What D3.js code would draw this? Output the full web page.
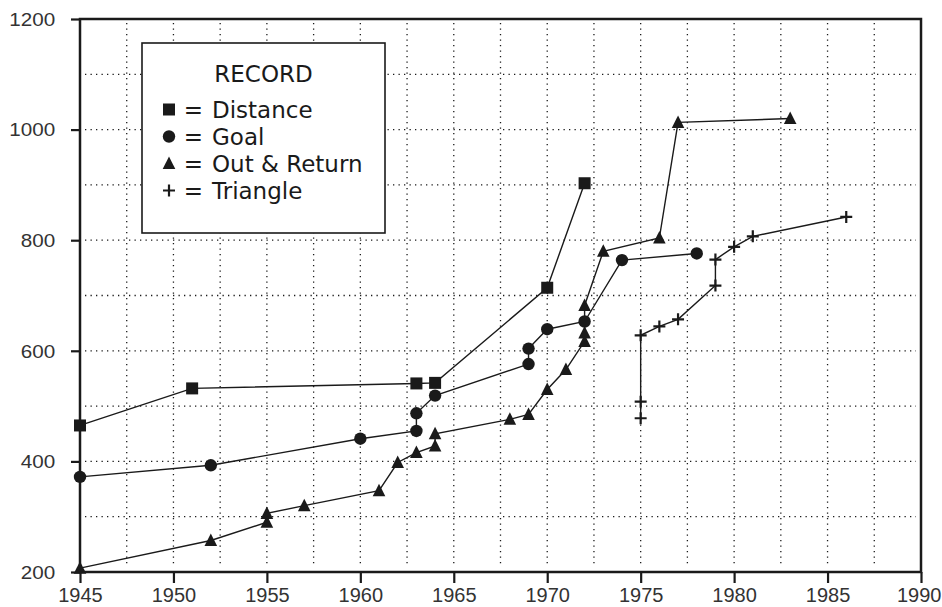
<!DOCTYPE html>
<html>
<head>
<meta charset="utf-8">
<script src="https://cdn.jsdelivr.net/npm/d3@7"></script>
<style>
  html, body { margin: 0; padding: 0; background: #fff; }
  svg { display: block; }
</style>
</head>
<body>
<svg id="chart" width="942" height="607"></svg>
<script>
// ---- data ----
const distanceYears  = [1945, 1951, 1963, 1964, 1970, 1972];
const distanceValues = [465, 532, 541, 542, 714, 903];

const goalYears  = [1945, 1952, 1960, 1963, 1963, 1964, 1969, 1969, 1970, 1972, 1974, 1978];
const goalValues = [372, 393, 441, 455, 487, 519, 576, 604, 639, 653, 764, 776];

const outReturnYears  = [1945, 1952, 1955, 1955, 1957, 1961, 1962, 1963, 1964, 1964, 1968, 1969, 1970, 1971, 1972, 1972, 1972, 1973, 1976, 1977, 1983];
const outReturnValues = [207, 257, 290, 306, 320, 347, 398, 416, 428, 450, 476, 485, 530, 566, 617, 632, 682, 780, 804, 1013, 1020];

const triangleYears  = [1975, 1975, 1975, 1976, 1977, 1979, 1979, 1980, 1981, 1986];
const triangleValues = [478, 508, 628, 644, 657, 718, 765, 788, 807, 842];

const xTicks = [1945, 1950, 1955, 1960, 1965, 1970, 1975, 1980, 1985, 1990];
const yTicks = [200, 400, 600, 800, 1000, 1200];
const xGrid = [1947.5, 1950, 1952.5, 1955, 1957.5, 1960, 1962.5, 1965, 1967.5, 1970, 1972.5, 1975, 1977.5, 1980, 1982.5, 1985, 1987.5];
const yGrid = [300, 400, 500, 600, 700, 800, 900, 1000, 1100];

const legendTitle = "RECORD";
const legendLabels = ["Distance", "Goal", "Out & Return", "Triangle"];
const legendShapes = ["square", "circle", "triangle", "plus"];

// ---- layout ----
const W = 942;
const L = 80, R = 921, T = 19, B = 572;
const svg = d3.select("#chart");
const x = d3.scaleLinear().domain([1945, 1990]).range([L, R]);
const y = d3.scaleLinear().domain([200, 1200]).range([B, T]);

const ink = "#1a1a1a";

// grid
const grid = svg.append("g");
grid.selectAll("line.vg").data(xGrid).join("line")
  .attr("x1", d => x(d)).attr("x2", d => x(d))
  .attr("y1", T + 4).attr("y2", B - 5)
  .attr("stroke", ink).attr("stroke-width", 1.3)
  .attr("stroke-dasharray", "1.3,4.2");
grid.selectAll("line.hg").data(yGrid).join("line")
  .attr("y1", d => y(d)).attr("y2", d => y(d))
  .attr("x1", L + 5).attr("x2", R - 5)
  .attr("stroke", ink).attr("stroke-width", 1.3)
  .attr("stroke-dasharray", "1.3,4.2");

// axes
const xAxis = svg.append("g").attr("transform", `translate(0,${B})`)
  .call(d3.axisBottom(x).tickValues(xTicks).tickSize(11).tickPadding(6).tickFormat(d3.format("d")));
xAxis.select(".domain").remove();
xAxis.selectAll("line").attr("stroke", ink).attr("stroke-width", 2.2);
xAxis.selectAll("text")
  .attr("font-family", "'Liberation Sans', Arial, sans-serif")
  .attr("font-size", 20).attr("fill", "#333")
  .attr("y", 30).attr("dy", 0);
// keep the last label inside the window
xAxis.selectAll("text").filter(d => x(d) + 23 > W)
  .attr("text-anchor", "end").attr("x", d => W - 1 - x(d));

const yAxis = svg.append("g").attr("transform", `translate(${L},0)`)
  .call(d3.axisLeft(y).tickValues(yTicks).tickSize(9).tickPadding(12).tickFormat(d3.format("d")));
yAxis.select(".domain").remove();
yAxis.selectAll("line").attr("stroke", ink).attr("stroke-width", 2.2);
yAxis.selectAll("text")
  .attr("font-family", "'Liberation Sans', Arial, sans-serif")
  .attr("font-size", 17.5).attr("fill", "#333")
  .attr("dy", "0.36em")
  .attr("transform", "scale(1.18,1)");

// frame
svg.append("rect")
  .attr("x", L).attr("y", T).attr("width", R - L).attr("height", B - T)
  .attr("fill", "none").attr("stroke", ink).attr("stroke-width", 2.5);

// series
const series = [
  { years: distanceYears, values: distanceValues, shape: "square" },
  { years: goalYears, values: goalValues, shape: "circle" },
  { years: outReturnYears, values: outReturnValues, shape: "triangle" },
  { years: triangleYears, values: triangleValues, shape: "plus" }
];

const line = d3.line().x(d => x(d[0])).y(d => y(d[1]));

function drawMarker(g, shape, cx, cy) {
  if (shape === "square") {
    g.append("rect").attr("x", cx - 6).attr("y", cy - 6).attr("width", 12).attr("height", 12).attr("fill", ink);
  } else if (shape === "circle") {
    g.append("circle").attr("cx", cx).attr("cy", cy).attr("r", 6.2).attr("fill", ink);
  } else if (shape === "triangle") {
    g.append("path").attr("d", `M${cx},${cy - 7}L${cx + 6.3},${cy + 5.5}L${cx - 6.3},${cy + 5.5}Z`).attr("fill", ink);
  } else {
    g.append("path").attr("d", `M${cx - 6},${cy}H${cx + 6}M${cx},${cy - 6}V${cy + 6}`)
      .attr("stroke", ink).attr("stroke-width", 2.2).attr("fill", "none");
  }
}

series.forEach(s => {
  const pts = s.years.map((yr, i) => [yr, s.values[i]]);
  svg.append("path").datum(pts).attr("d", line)
    .attr("fill", "none").attr("stroke", ink).attr("stroke-width", 1.4);
});
series.forEach(s => {
  const g = svg.append("g");
  s.years.forEach((yr, i) => drawMarker(g, s.shape, x(yr), y(s.values[i])));
});

// legend
const lg = svg.append("g");
lg.append("rect").attr("x", 142).attr("y", 43).attr("width", 243).attr("height", 190)
  .attr("fill", "#fff").attr("stroke", ink).attr("stroke-width", 1.6);
const legendFont = "'DejaVu Sans', Verdana, sans-serif";
lg.append("text").attr("x", 263.5).attr("y", 82).attr("text-anchor", "middle")
  .attr("font-family", legendFont).attr("font-size", 23).attr("fill", ink).text(legendTitle);
legendLabels.forEach((lab, i) => {
  const base = 118 + i * 27;
  drawMarker(lg, legendShapes[i], 169, base - 8.5);
  lg.append("text").attr("x", 193.5).attr("y", base).attr("text-anchor", "middle")
    .attr("font-family", legendFont).attr("font-size", 23).attr("fill", ink).text("=");
  lg.append("text").attr("x", 212).attr("y", base)
    .attr("font-family", legendFont).attr("font-size", 23).attr("fill", ink).text(lab);
});
</script>
</body>
</html>
